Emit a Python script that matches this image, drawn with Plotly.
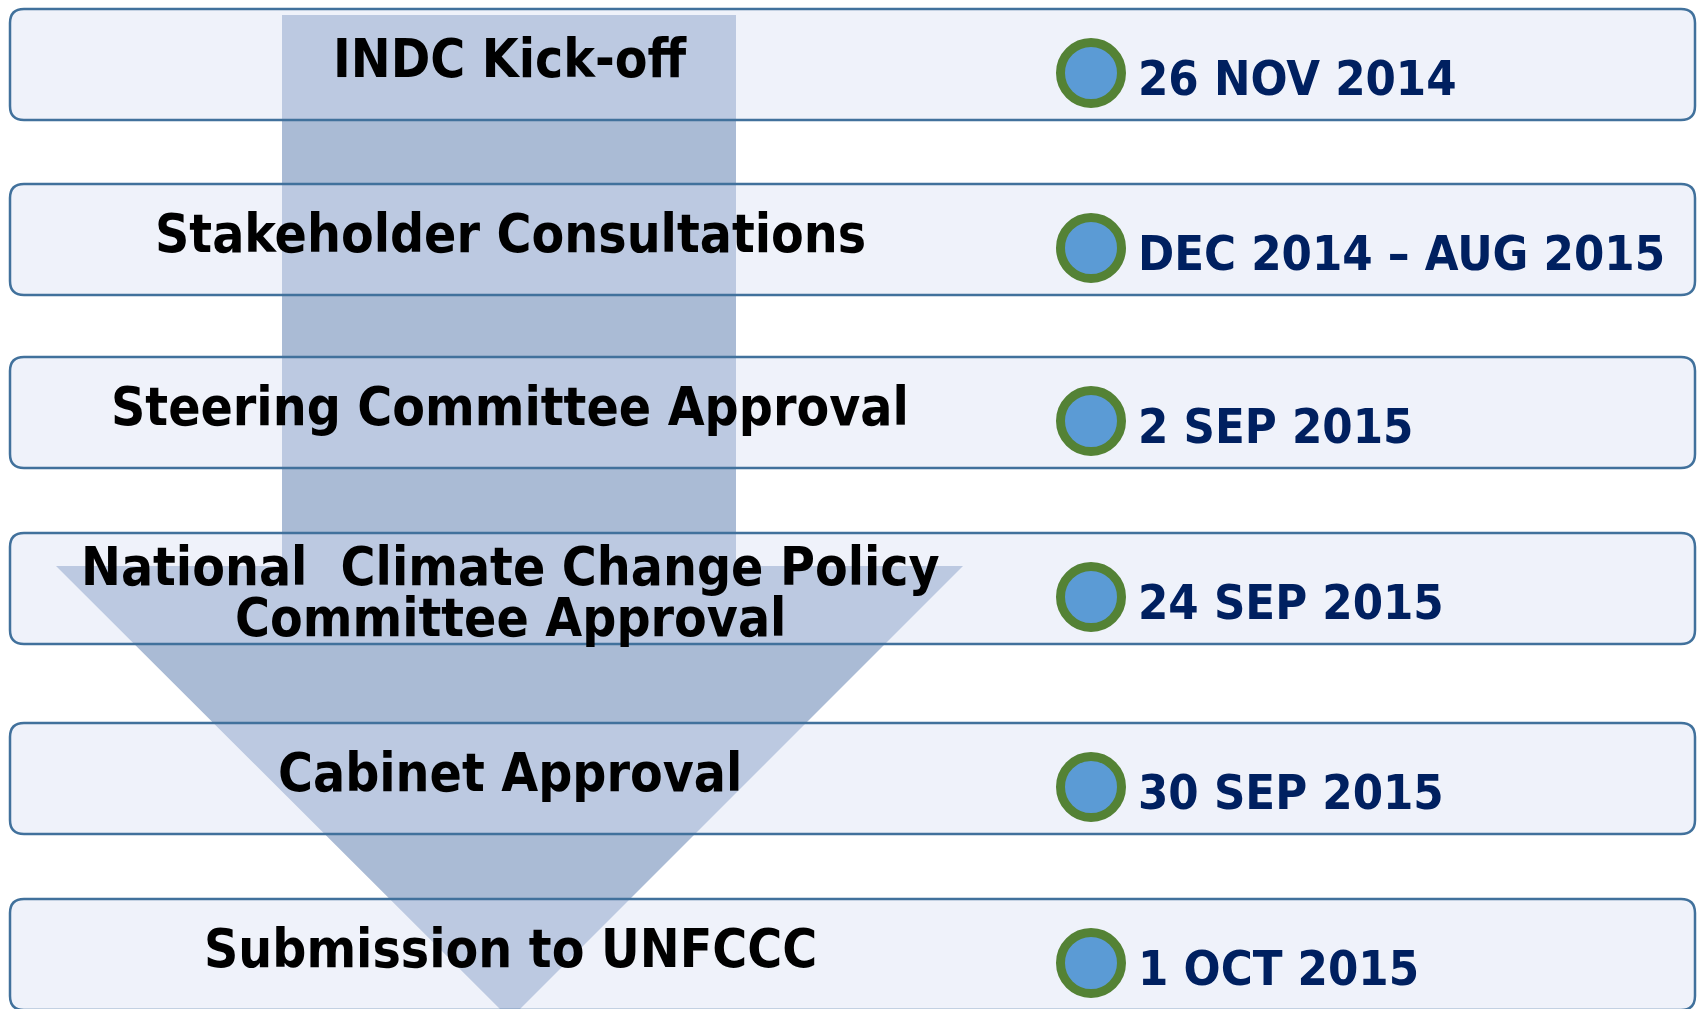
import plotly.graph_objects as go

# process steps and when they happened
STAGES = [
    "INDC Kick-off",
    "Stakeholder Consultations",
    "Steering Committee Approval",
    "National\u00a0 Climate Change Policy<br>Committee Approval",
    "Cabinet Approval",
    "Submission to UNFCCC",
]
DATES = [
    "26 NOV 2014",
    "DEC 2014 \u2013 AUG 2015",
    "2 SEP 2015",
    "24 SEP 2015",
    "30 SEP 2015",
    "1 OCT 2015",
]

# layout of the rows (screen pixels, y down)
W, H = 1700, 1009
ROW_TOP = [9, 184, 357, 533, 723, 899]
ROW_H = 111
BOX_X0, BOX_X1 = 10, 1695
DOT_X = 1091
DATE_X = 1136
LABEL_X = 510

FONT = "DejaVu Sans Condensed, Tahoma, DejaVu Sans, sans-serif"
BORDER = "#41719C"


def rounded_box(x0, y0, x1, y1, r=14):
    return (f"M {x0+r},{y0} L {x1-r},{y0} Q {x1},{y0} {x1},{y0+r} "
            f"L {x1},{y1-r} Q {x1},{y1} {x1-r},{y1} L {x0+r},{y1} "
            f"Q {x0},{y1} {x0},{y1-r} L {x0},{y0+r} Q {x0},{y0} {x0+r},{y0} Z")


fig = go.Figure()
shapes = []

# big down arrow behind the rows
arrow = "M 282,15 L 736,15 L 736,566 L 963,566 L 510,1019 L 56,566 L 282,566 Z"
shapes.append(dict(type="path", path=arrow, xref="x", yref="y",
                   fillcolor="#AABBD5", line=dict(width=0), layer="below"))

for top in ROW_TOP:
    shapes.append(dict(type="path", path=rounded_box(BOX_X0, top, BOX_X1, top + ROW_H),
                       xref="x", yref="y", fillcolor="rgba(215,223,242,0.4)",
                       line=dict(color=BORDER, width=2.5), layer="below"))

annotations = []
for i, (stage, date) in enumerate(zip(STAGES, DATES)):
    mid = ROW_TOP[i] + ROW_H / 2
    lines = stage.split("<br>")
    if len(lines) == 1:
        ys = [mid - 6]
    else:
        ys = [mid - 22, mid + 29]
    for ln, yy in zip(lines, ys):
        annotations.append(dict(x=LABEL_X, y=yy, xref="x", yref="y", text=f"<b>{ln}</b>",
                                showarrow=False, xanchor="center", yanchor="middle",
                                font=dict(family=FONT, size=53, color="black")))
    annotations.append(dict(x=DATE_X, y=mid + 13, xref="x", yref="y", text=f"<b>{date}</b>",
                            showarrow=False, xanchor="left", yanchor="middle",
                            font=dict(family=FONT, size=48.5, color="#002060")))

dot_y = [t + ROW_H / 2 + 8.5 for t in ROW_TOP]
fig.add_trace(go.Scatter(x=[DOT_X] * len(DATES), y=dot_y, mode="markers",
                         marker=dict(size=61, color="#5B9BD5",
                                     line=dict(color="#548235", width=9)),
                         hoverinfo="skip", showlegend=False))

fig.update_layout(
    width=W, height=H,
    margin=dict(l=0, r=0, t=0, b=0),
    paper_bgcolor="white", plot_bgcolor="white",
    shapes=shapes, annotations=annotations,
    xaxis=dict(range=[0, W], visible=False, fixedrange=True),
    yaxis=dict(range=[H, 0], visible=False, fixedrange=True),
    showlegend=False,
)

# drop the default page margin so the figure fills the window exactly
fig.write_html("out.html", config={"displayModeBar": False},
               post_script="document.body.style.margin='0';"
                           "document.documentElement.style.overflow='hidden';")
